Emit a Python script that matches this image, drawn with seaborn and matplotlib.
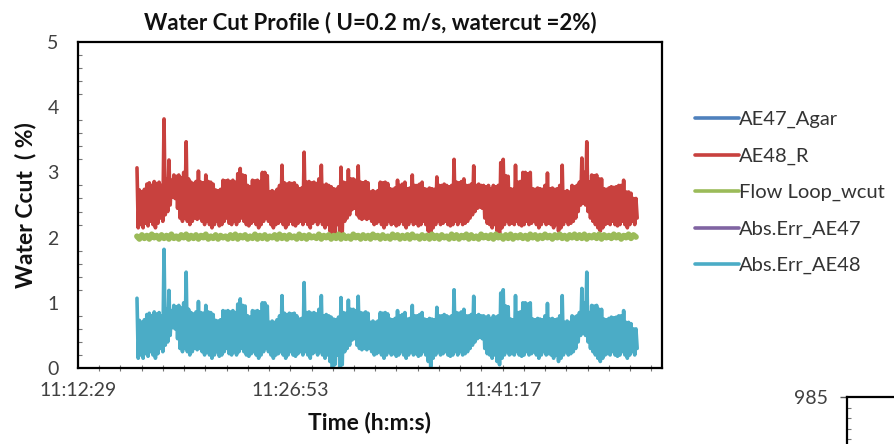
import numpy as np
import pandas as pd
import matplotlib
matplotlib.use("Agg")
import matplotlib.pyplot as plt
import matplotlib.dates as mdates
from matplotlib.ticker import MultipleLocator, FixedLocator
from matplotlib.lines import Line2D
import seaborn as sns

# ---------------- data ----------------
title = "Water Cut Profile ( U=0.2 m/s, watercut =2%)"
x_label = "Time (h:m:s)"
y_label = "Water Ccut  ( %)"
series_names = ["AE47_Agar", "AE48_R", "Flow Loop_wcut", "Abs.Err_AE47", "Abs.Err_AE48"]
day = "2000-01-01 "
start_time = "11:16:29"
sensor_sample_seconds = 5
loop_sample_seconds = 10
x_min_time = "11:12:29"
x_max_time = "11:52:05"
xtick_labels = ["11:12:29", "11:26:53", "11:41:17"]
yticks = [0, 1, 2, 3, 4, 5]

ae47_agar = []
abs_err_ae47 = []

ae48_r = [
    3.07, 2.15, 2.73, 2.2, 2.7, 2.15, 2.74, 2.22, 2.82, 2.18, 2.84, 2.25, 2.8, 2.2, 2.86, 2.15, 2.83, 2.22, 2.85, 2.3,
    2.8, 2.25, 3.82, 2.35, 2.9, 2.4, 3.19, 2.5, 2.88, 2.62, 2.96, 2.6, 2.94, 2.45, 2.96, 2.3, 2.92, 2.25, 3.0, 2.3,
    3.47, 2.25, 2.9, 2.2, 2.85, 2.25, 2.83, 2.3, 2.86, 2.28, 3.02, 2.3, 2.85, 2.25, 2.84, 2.2, 2.96, 2.25, 2.86, 2.2,
    2.85, 2.15, 2.82, 2.2, 2.73, 2.25, 2.72, 2.18, 2.74, 2.2, 2.88, 2.25, 2.87, 2.3, 2.88, 2.22, 2.86, 2.2, 2.88, 2.25,
    2.85, 2.2, 2.98, 2.25, 3.06, 2.3, 2.96, 2.25, 2.95, 2.2, 2.8, 2.18, 2.78, 2.22, 2.88, 2.25, 2.87, 2.2, 2.88, 2.15,
    2.86, 2.2, 3.0, 2.25, 3.0, 2.3, 2.95, 2.25, 2.7, 2.2, 2.72, 2.15, 2.7, 2.2, 2.74, 2.22, 2.8, 2.25, 3.11, 2.2,
    2.84, 2.15, 2.82, 2.2, 2.84, 2.25, 2.83, 2.2, 2.84, 2.18, 2.8, 2.22, 2.75, 2.25, 2.76, 2.2, 3.31, 2.25, 2.85, 2.2,
    2.86, 2.15, 2.84, 2.22, 2.85, 2.25, 2.83, 2.2, 2.9, 2.25, 3.11, 2.2, 2.8, 2.15, 2.82, 2.2, 2.8, 2.1, 2.78, 2.0,
    2.75, 2.05, 2.74, 2.2, 2.78, 2.0, 3.08, 2.05, 2.85, 2.25, 2.84, 2.3, 3.04, 2.35, 2.9, 2.43, 2.9, 2.45, 2.88, 2.35,
    3.1, 2.3, 2.85, 2.28, 2.84, 2.3, 2.86, 2.28, 2.84, 2.3, 2.7, 2.25, 2.72, 2.2, 2.7, 2.22, 2.72, 2.25, 2.85, 2.2,
    2.84, 2.15, 2.85, 2.2, 2.83, 2.25, 2.75, 2.2, 2.74, 2.22, 2.76, 2.18, 2.88, 2.2, 2.8, 2.25, 2.82, 2.2, 2.85, 2.15,
    2.75, 2.2, 2.76, 2.25, 2.96, 2.2, 2.8, 2.22, 2.8, 2.18, 2.82, 2.2, 2.85, 2.25, 2.75, 2.2, 2.74, 2.1, 2.76, 2.02,
    2.75, 2.15, 2.74, 2.2, 2.93, 2.25, 2.8, 2.2, 2.8, 2.22, 2.82, 2.25, 2.8, 2.2, 2.78, 2.18, 2.8, 2.2, 3.2, 2.25,
    2.85, 2.2, 2.84, 2.25, 2.86, 2.2, 2.9, 2.22, 2.8, 2.25, 2.8, 2.3, 2.82, 2.35, 3.1, 2.4, 2.8, 2.45, 2.82, 2.47,
    2.8, 2.45, 2.8, 2.3, 2.78, 2.22, 2.8, 2.2, 2.75, 2.15, 2.8, 2.2, 2.78, 2.1, 2.8, 2.05, 3.15, 2.15, 3.2, 2.2,
    2.95, 2.25, 2.94, 2.2, 2.75, 2.22, 2.74, 2.2, 3.11, 2.25, 2.85, 2.2, 2.86, 2.18, 3.0, 2.2, 3.0, 2.25, 2.98, 2.2,
    3.0, 2.22, 2.75, 2.25, 2.74, 2.2, 2.76, 2.15, 2.75, 2.2, 2.74, 2.25, 2.8, 2.2, 2.99, 2.22, 2.75, 2.2, 2.76, 2.15,
    2.74, 2.2, 2.75, 2.1, 2.8, 2.15, 3.11, 2.2, 2.7, 2.25, 2.72, 2.2, 2.7, 2.22, 2.8, 2.25, 2.78, 2.3, 2.8, 2.4,
    2.85, 2.5, 3.22, 2.53, 3.0, 2.5, 3.47, 2.4, 2.85, 2.3, 2.96, 2.25, 2.95, 2.2, 2.96, 2.15, 2.9, 2.1, 2.9, 2.15,
    2.75, 2.2, 2.74, 2.22, 2.76, 2.2, 2.78, 2.25, 2.77, 2.2, 2.78, 2.18, 2.8, 2.2, 2.8, 2.25, 2.88, 2.2, 2.7, 2.15,
    2.7, 2.2, 2.68, 2.25, 2.6, 2.2, 2.6, 2.3,
]

abs_err_ae48 = [
    1.07, 0.15, 0.73, 0.2, 0.7, 0.15, 0.74, 0.22, 0.82, 0.18, 0.84, 0.25, 0.8, 0.2, 0.86, 0.15, 0.83, 0.22, 0.85, 0.3,
    0.8, 0.25, 1.82, 0.35, 0.9, 0.4, 1.19, 0.5, 0.88, 0.62, 0.96, 0.6, 0.94, 0.45, 0.96, 0.3, 0.92, 0.25, 1.0, 0.3,
    1.47, 0.25, 0.9, 0.2, 0.85, 0.25, 0.83, 0.3, 0.86, 0.28, 1.02, 0.3, 0.85, 0.25, 0.84, 0.2, 0.96, 0.25, 0.86, 0.2,
    0.85, 0.15, 0.82, 0.2, 0.73, 0.25, 0.72, 0.18, 0.74, 0.2, 0.88, 0.25, 0.87, 0.3, 0.88, 0.22, 0.86, 0.2, 0.88, 0.25,
    0.85, 0.2, 0.98, 0.25, 1.06, 0.3, 0.96, 0.25, 0.95, 0.2, 0.8, 0.18, 0.78, 0.22, 0.88, 0.25, 0.87, 0.2, 0.88, 0.15,
    0.86, 0.2, 1.0, 0.25, 1.0, 0.3, 0.95, 0.25, 0.7, 0.2, 0.72, 0.15, 0.7, 0.2, 0.74, 0.22, 0.8, 0.25, 1.11, 0.2,
    0.84, 0.15, 0.82, 0.2, 0.84, 0.25, 0.83, 0.2, 0.84, 0.18, 0.8, 0.22, 0.75, 0.25, 0.76, 0.2, 1.31, 0.25, 0.85, 0.2,
    0.86, 0.15, 0.84, 0.22, 0.85, 0.25, 0.83, 0.2, 0.9, 0.25, 1.11, 0.2, 0.8, 0.15, 0.82, 0.2, 0.8, 0.1, 0.78, 0.0,
    0.75, 0.05, 0.74, 0.2, 0.78, 0.0, 1.08, 0.05, 0.85, 0.25, 0.84, 0.3, 1.04, 0.35, 0.9, 0.43, 0.9, 0.45, 0.88, 0.35,
    1.1, 0.3, 0.85, 0.28, 0.84, 0.3, 0.86, 0.28, 0.84, 0.3, 0.7, 0.25, 0.72, 0.2, 0.7, 0.22, 0.72, 0.25, 0.85, 0.2,
    0.84, 0.15, 0.85, 0.2, 0.83, 0.25, 0.75, 0.2, 0.74, 0.22, 0.76, 0.18, 0.88, 0.2, 0.8, 0.25, 0.82, 0.2, 0.85, 0.15,
    0.75, 0.2, 0.76, 0.25, 0.96, 0.2, 0.8, 0.22, 0.8, 0.18, 0.82, 0.2, 0.85, 0.25, 0.75, 0.2, 0.74, 0.1, 0.76, 0.02,
    0.75, 0.15, 0.74, 0.2, 0.93, 0.25, 0.8, 0.2, 0.8, 0.22, 0.82, 0.25, 0.8, 0.2, 0.78, 0.18, 0.8, 0.2, 1.2, 0.25,
    0.85, 0.2, 0.84, 0.25, 0.86, 0.2, 0.9, 0.22, 0.8, 0.25, 0.8, 0.3, 0.82, 0.35, 1.1, 0.4, 0.8, 0.45, 0.82, 0.47,
    0.8, 0.45, 0.8, 0.3, 0.78, 0.22, 0.8, 0.2, 0.75, 0.15, 0.8, 0.2, 0.78, 0.1, 0.8, 0.05, 1.15, 0.15, 1.2, 0.2,
    0.95, 0.25, 0.94, 0.2, 0.75, 0.22, 0.74, 0.2, 1.11, 0.25, 0.85, 0.2, 0.86, 0.18, 1.0, 0.2, 1.0, 0.25, 0.98, 0.2,
    1.0, 0.22, 0.75, 0.25, 0.74, 0.2, 0.76, 0.15, 0.75, 0.2, 0.74, 0.25, 0.8, 0.2, 0.99, 0.22, 0.75, 0.2, 0.76, 0.15,
    0.74, 0.2, 0.75, 0.1, 0.8, 0.15, 1.11, 0.2, 0.7, 0.25, 0.72, 0.2, 0.7, 0.22, 0.8, 0.25, 0.78, 0.3, 0.8, 0.4,
    0.85, 0.5, 1.22, 0.53, 1.0, 0.5, 1.47, 0.4, 0.85, 0.3, 0.96, 0.25, 0.95, 0.2, 0.96, 0.15, 0.9, 0.1, 0.9, 0.15,
    0.75, 0.2, 0.74, 0.22, 0.76, 0.2, 0.78, 0.25, 0.77, 0.2, 0.78, 0.18, 0.8, 0.2, 0.8, 0.25, 0.88, 0.2, 0.7, 0.15,
    0.7, 0.2, 0.68, 0.25, 0.6, 0.2, 0.6, 0.3,
]

flow_loop = [
    2.02, 1.98, 2.04, 1.99, 2.03, 1.98, 2.05, 2.00, 2.03, 1.98, 2.04, 1.99,
    2.03, 1.98, 2.05, 1.99, 2.02, 1.98, 2.04, 2.00, 2.05, 1.98, 2.03, 1.99,
    2.04, 1.98, 2.03, 2.00, 2.05, 1.98, 2.02, 1.99, 2.04, 1.98, 2.03, 2.00,
    2.02, 1.98, 2.04, 1.99, 2.05, 1.98, 2.03, 2.00, 2.04, 1.98, 2.02, 1.99,
    2.05, 1.98, 2.03, 1.99, 2.04, 1.98, 2.02, 2.00, 2.04, 1.98, 2.05, 1.99,
    2.03, 1.98, 2.04, 2.00, 2.02, 1.98, 2.05, 1.99, 2.03, 1.98, 2.04, 2.00,
    2.02, 1.99, 2.05, 1.98, 2.03, 2.00, 2.04, 1.98, 2.03, 1.99, 2.05, 1.98,
    2.04, 1.99, 2.02, 1.98, 2.05, 2.00, 2.03, 1.98, 2.04, 1.99, 2.03, 1.98,
    2.05, 2.00, 2.03, 1.98, 2.04, 1.99, 2.02, 1.98, 2.05, 2.00, 2.04, 1.98,
    2.03, 1.99, 2.04, 1.98, 2.05, 2.00, 2.02, 1.98, 2.04, 1.99, 2.03, 1.98,
    2.05, 1.99, 2.03, 1.98, 2.04, 2.00, 2.02, 1.98, 2.05, 1.99, 2.04, 1.98,
    2.03, 2.00, 2.05, 1.98, 2.04, 1.99, 2.02, 1.98, 2.05, 2.00, 2.03, 1.99,
    2.04, 1.98, 2.05, 2.00, 2.03, 1.98, 2.04, 1.99, 2.05, 1.98, 2.03, 2.00,
    2.04, 1.99, 2.03, 1.98, 2.05, 2.00, 2.04, 1.98, 2.03, 1.99, 2.05, 2.00,
    2.03, 1.98, 2.04, 2.00, 2.05, 1.99, 2.03, 1.98, 2.04, 2.00, 2.05, 1.99,
    2.04, 1.99, 2.05, 1.98, 2.03, 2.00, 2.04, 1.99, 2.05, 1.98, 2.04, 2.00,
    2.03, 1.99, 2.05, 2.00, 2.04, 1.98, 2.03, 2.00, 2.05, 1.99, 2.04, 2.01,
]

colors = {
    "AE47_Agar": "#4F81BD",
    "AE48_R": "#C8413E",
    "Flow Loop_wcut": "#9BBB59",
    "Abs.Err_AE47": "#8064A2",
    "Abs.Err_AE48": "#4BACC6",
}

# ---------------- style ----------------
sns.set_style("white")
plt.rcParams["font.family"] = ["Lato", "DejaVu Sans"]

fig = plt.figure(figsize=(8.95, 4.44), dpi=100)
fig.patch.set_facecolor("white")
ax = fig.add_axes([78 / 895, 76 / 444, 584 / 895, 326 / 444])

sensor_times = pd.date_range(day + start_time, periods=len(ae48_r),
                             freq=f"{sensor_sample_seconds}s")
loop_times = pd.date_range(day + start_time, periods=len(flow_loop),
                           freq=f"{loop_sample_seconds}s")
widths = {"AE47_Agar": 2.6, "AE48_R": 2.6, "Flow Loop_wcut": 4.2,
          "Abs.Err_AE47": 2.6, "Abs.Err_AE48": 2.6}
values = {
    "AE47_Agar": (sensor_times, ae47_agar),
    "AE48_R": (sensor_times, ae48_r),
    "Flow Loop_wcut": (loop_times, flow_loop),
    "Abs.Err_AE47": (sensor_times, abs_err_ae47),
    "Abs.Err_AE48": (sensor_times, abs_err_ae48),
}
handles = []
for name in series_names:
    tt, vals = values[name]
    if len(vals):
        sns.lineplot(x=tt[:len(vals)], y=vals, ax=ax, color=colors[name],
                     linewidth=widths[name], legend=False)
    handles.append(Line2D([], [], color=colors[name], linewidth=2.6))

x0 = mdates.date2num(pd.Timestamp(day + x_min_time))
x1 = mdates.date2num(pd.Timestamp(day + x_max_time))
ax.set_xlim(x0, x1)
ax.set_ylim(0, 5)
xt = [mdates.date2num(pd.Timestamp(day + t)) for t in xtick_labels]
ax.xaxis.set_major_locator(FixedLocator(xt))
ax.set_xticklabels(xtick_labels)
ax.xaxis.set_minor_locator(MultipleLocator(0.001))
ax.set_yticks(yticks)
ax.set_yticklabels([str(v) for v in yticks])
ax.yaxis.set_minor_locator(MultipleLocator(0.2))

for s in ax.spines.values():
    s.set_visible(True)
    s.set_color("black")
    s.set_linewidth(1.6)

tick_color = "#404040"
ax.tick_params(axis="y", which="major", direction="out", length=5, width=1,
               color="#555555", labelsize=14, labelcolor=tick_color, pad=9)
ax.tick_params(axis="y", which="minor", direction="in", length=3, width=0.8,
               color="#777777", left=True)
ax.tick_params(axis="x", which="major", direction="inout", length=10, width=1,
               color="#555555", labelsize=14, labelcolor=tick_color, pad=5)
ax.tick_params(axis="x", which="minor", direction="inout", length=5, width=0.8,
               color="#777777", bottom=True)

ax.set_title(title, fontsize=16, fontweight="bold", color="#111111", pad=9)
ax.set_xlabel(x_label, fontsize=16.5, fontweight="bold", color="#111111", labelpad=9)
ax.set_ylabel(y_label, fontsize=16.5, fontweight="bold", color="#111111", labelpad=8)

fig.legend(handles, series_names, loc="upper left",
           bbox_to_anchor=(687 / 895, 1 - 103 / 444), frameon=False,
           fontsize=14.5, handlelength=2.2, handletextpad=0.0, labelspacing=0.95,
           borderaxespad=0, labelcolor="#333333")

# fragment of neighbouring chart (bottom-right corner)
ax2 = fig.add_axes([847 / 895, -0.3, 0.2, 0.3 + 47 / 444])
ax2.set_ylim(900, 985)
ax2.set_xlim(0, 1)
ax2.set_yticks([985])
ax2.set_yticklabels(["985"])
ax2.set_xticks([])
ax2.yaxis.set_minor_locator(MultipleLocator(5))
for s in ax2.spines.values():
    s.set_color("black")
    s.set_linewidth(1.6)
ax2.tick_params(axis="y", which="major", direction="out", length=5, width=1,
                color="#555555", labelsize=14, labelcolor=tick_color, pad=9, left=True)
ax2.tick_params(axis="y", which="minor", direction="in", length=3, width=0.8,
                color="#777777", left=True)

fig.savefig("out.png", dpi=100, facecolor="white")
